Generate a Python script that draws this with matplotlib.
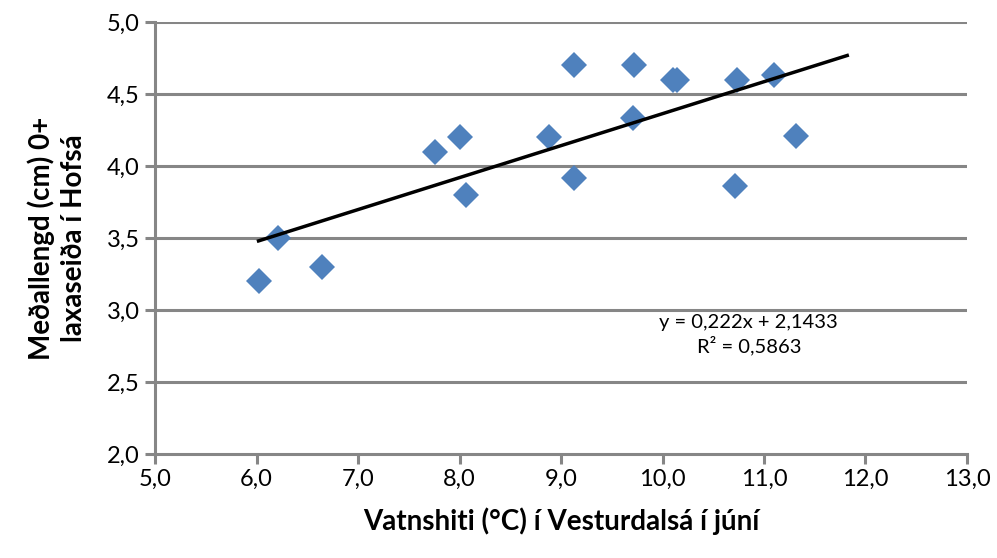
import matplotlib
matplotlib.use("Agg")
import matplotlib.pyplot as plt
import numpy as np

plt.rcParams['font.family'] = ['Lato', 'DejaVu Sans']

water_temp = [6.02, 6.21, 6.65, 7.76, 8.00, 8.06, 8.88, 9.13, 9.13, 9.72, 9.71, 10.10, 10.14, 10.73, 10.71, 11.10, 11.32]
mean_length = [3.20, 3.50, 3.30, 4.10, 4.20, 3.80, 4.20, 4.70, 3.92, 4.70, 4.33, 4.60, 4.60, 4.60, 3.86, 4.63, 4.21]
slope = 0.222
intercept = 2.1433
r2 = 0.5863

x_ticks = [5, 6, 7, 8, 9, 10, 11, 12, 13]
y_ticks = [2.0, 2.5, 3.0, 3.5, 4.0, 4.5, 5.0]

fig = plt.figure(figsize=(9.97, 5.58), dpi=100)
ax = fig.add_axes([0.1555, 0.1864, 0.8144, 0.7742])

gray = '#868686'
for y in y_ticks[1:]:
    ax.axhline(y, color=gray, lw=2.2, zorder=1)

ax.plot(water_temp, mean_length, linestyle='none', marker='D', markersize=13,
        color='#4F81BD', markeredgewidth=0, zorder=3)

xs = np.array([min(water_temp), max(water_temp) + 0.5])
ax.plot(xs, slope * xs + intercept, color='black', lw=2.5, zorder=4)

ax.set_xlim(5, 13)
ax.set_ylim(2, 5)
ax.set_xticks(x_ticks)
ax.set_yticks(y_ticks)
ax.set_xticklabels([f"{v:.1f}".replace('.', ',') for v in x_ticks], fontsize=17)
ax.set_yticklabels([f"{v:.1f}".replace('.', ',') for v in y_ticks], fontsize=17)

for s in ['top', 'right']:
    ax.spines[s].set_visible(False)
for s in ['left', 'bottom']:
    ax.spines[s].set_color(gray)
    ax.spines[s].set_linewidth(2.2)
ax.tick_params(axis='both', direction='out', length=7, width=2.2, color=gray, pad=4)

ax.set_xlabel('Vatnshiti (°C) í Vesturdalsá í júní', fontsize=20, fontweight='bold', labelpad=12)
ax.set_ylabel('Meðallengd (cm) 0+\nlaxaseiða í Hofsá', fontsize=20, fontweight='bold', labelpad=14,
              linespacing=1.3)

ax.text(10.85, 2.97, 'y = 0,222x + 2,1433\nR² = 0,5863', ha='center', va='top',
        fontsize=14.5, linespacing=1.25)

fig.savefig('out.png', dpi=100)
